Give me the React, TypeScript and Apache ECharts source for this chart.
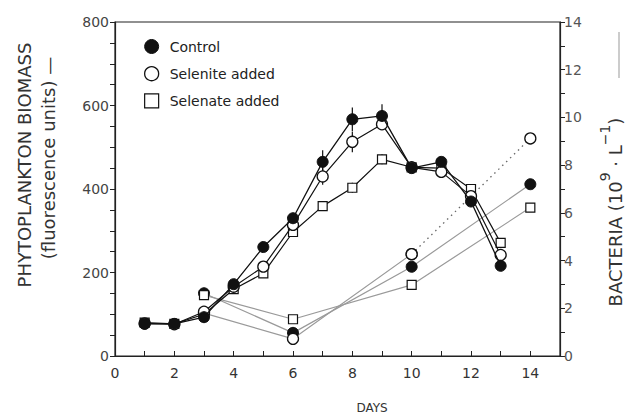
import React, { useEffect, useRef } from "react";
import * as echarts from "echarts";

const phytoDays = [1, 2, 3, 4, 5, 6, 7, 8, 9, 10, 11, 12, 13];
const phytoControl = [77, 77, 93, 172, 261, 330, 465, 567, 575, 450, 465, 370, 216];
const phytoSelenite = [78, 76, 106, 166, 214, 314, 430, 513, 555, 452, 441, 383, 242];
const phytoSelenate = [80, 77, 100, 160, 198, 297, 359, 403, 471, 452, 450, 400, 271];

const errDays = [7, 8, 9];
const errControl = [28, 28, 28];
const errSelenite = [20, 25, 12];
const errSelenate = [10, 12, 12];

const bactDays = [3, 6, 10, 14];
const bactControl = [2.63, 0.97, 3.74, 7.2];
const bactSelenite = [1.8, 0.72, 4.27, 9.12];
const bactSelenate = [2.55, 1.54, 2.98, 6.22];

const xTickLabels = ["0", "2", "4", "6", "8", "10", "12", "14"];
const leftTickLabels = ["0", "200", "400", "600", "800"];
const rightTickLabels = ["0", "2", "4", "6", "8", "10", "12", "14"];

const FONT = "DejaVu Sans";

const pairs = (xs: number[], ys: number[]) => xs.map((x, i) => [x, ys[i]]);

const errData = (vals: number[], errs: number[]) =>
  errDays.map((d, i) => {
    const v = vals[phytoDays.indexOf(d)];
    return [d, v - errs[i], v + errs[i]];
  });

const errRender = (params: any, api: any) => {
  const x = api.value(0);
  const p1 = api.coord([x, api.value(1)]);
  const p2 = api.coord([x, api.value(2)]);
  return {
    type: "line",
    shape: { x1: p1[0], y1: p1[1], x2: p2[0], y2: p2[1] },
    style: { stroke: "#111", lineWidth: 1.2 },
  };
};

export default function App() {
  const ref = useRef<HTMLDivElement>(null);
  useEffect(() => {
    if (!ref.current) return;
    const chart = echarts.init(ref.current, undefined, { renderer: "svg" });
    const black = "#111";
    const grey = "#9a9a9a";
    const ctrlItem = { color: black, borderColor: black, borderWidth: 1 };
    const seleniteItem = { color: "#fff", borderColor: black, borderWidth: 1.3 };
    const selenateItem = { color: "#fff", borderColor: black, borderWidth: 1.2 };
    chart.setOption({
      animation: false,
      backgroundColor: "#fff",
      textStyle: { fontFamily: FONT },
      grid: {
        left: 115,
        right: 72,
        top: 22,
        bottom: 62,
        show: true,
        borderColor: "#222",
        borderWidth: 1.2,
        backgroundColor: "transparent",
      },
      legend: {
        orient: "vertical",
        left: 139,
        top: 34,
        itemWidth: 14,
        itemHeight: 14,
        itemGap: 12,
        selectedMode: false,
        textStyle: {
          fontFamily: FONT,
          fontSize: 14,
          color: "#222",
          padding: [0, 0, 0, 6],
        },
        data: [
          { name: "Control", icon: "circle", itemStyle: ctrlItem },
          { name: "Selenite added", icon: "circle", itemStyle: seleniteItem },
          { name: "Selenate added", icon: "rect", itemStyle: { ...selenateItem } },
        ],
      },
      xAxis: {
        type: "value",
        min: 0,
        max: 15,
        interval: 1,
        splitLine: { show: false },
        axisLine: { show: true, onZero: false, lineStyle: { color: "#222", width: 1.2 } },
        axisTick: { show: true, inside: true, length: 5, lineStyle: { color: "#222" } },
        axisLabel: {
          fontFamily: FONT,
          fontSize: 14,
          color: "#333",
          margin: 10,
          formatter: (v: number) => {
            const s = String(v);
            return xTickLabels.includes(s) ? s : "";
          },
        },
      },
      yAxis: [
        {
          type: "value",
          min: 0,
          max: 800,
          interval: 50,
          position: "left",
          splitLine: { show: false },
          axisLine: { show: true, lineStyle: { color: "#222", width: 1.2 } },
          axisTick: { show: true, length: 5, lineStyle: { color: "#222" } },
          axisLabel: {
            fontFamily: FONT,
            fontSize: 14,
            color: "#444",
            margin: 6,
            formatter: (v: number) => {
              const s = String(v);
              return leftTickLabels.includes(s) ? s : "";
            },
          },
        },
        {
          type: "value",
          min: 0,
          max: 14,
          interval: 1,
          position: "right",
          splitLine: { show: false },
          axisLine: { show: true, lineStyle: { color: "#222", width: 1.2 } },
          axisTick: { show: true, length: 5, lineStyle: { color: "#222" } },
          axisLabel: {
            fontFamily: FONT,
            fontSize: 14,
            color: "#555",
            margin: 4,
            formatter: (v: number) => {
              const s = String(v);
              return rightTickLabels.includes(s) ? s : "";
            },
          },
        },
      ],
      graphic: [
        {
          type: "text",
          x: 24,
          y: 165,
          rotation: Math.PI / 2,
          style: {
            text: "PHYTOPLANKTON BIOMASS",
            font: `18px '${FONT}'`,
            fill: "#333",
            align: "center",
            verticalAlign: "middle",
          },
        },
        {
          type: "text",
          x: 48,
          y: 158,
          rotation: Math.PI / 2,
          style: {
            text: "(fluorescence units) —",
            font: `18px '${FONT}'`,
            fill: "#333",
            align: "center",
            verticalAlign: "middle",
          },
        },
        {
          type: "text",
          x: 611,
          y: 212,
          rotation: Math.PI / 2,
          style: {
            text: "{n|BACTERIA (10}{s|9}{n| · L}{s|−1}{n|)}",
            fill: "#333",
            align: "center",
            verticalAlign: "middle",
            rich: {
              n: { fontFamily: FONT, fontSize: 18, lineHeight: 26, verticalAlign: "bottom", fill: "#333" },
              s: { fontFamily: FONT, fontSize: 14, lineHeight: 26, verticalAlign: "top", fill: "#333" },
            },
          },
        },
        {
          type: "line",
          shape: { x1: 619, y1: 32, x2: 619, y2: 78 },
          style: { stroke: "#aaa", lineWidth: 1.2 },
        },
        {
          type: "text",
          x: 372,
          y: 408,
          style: {
            text: "DAYS",
            font: `12px '${FONT}'`,
            fill: "#333",
            align: "center",
            verticalAlign: "middle",
          },
        },
      ],
      series: [
        {
          name: "Control bacteria",
          type: "line",
          yAxisIndex: 1,
          data: pairs(bactDays, bactControl),
          symbol: "circle",
          symbolSize: 11,
          itemStyle: ctrlItem,
          lineStyle: { color: grey, width: 1.2 },
          z: 2,
        },
        {
          name: "Selenite bacteria",
          type: "line",
          yAxisIndex: 1,
          data: pairs(bactDays.slice(0, 3), bactSelenite.slice(0, 3)),
          symbol: "circle",
          symbolSize: 11,
          itemStyle: seleniteItem,
          lineStyle: { color: grey, width: 1.2 },
          z: 2,
        },
        {
          name: "Selenite bacteria late",
          type: "line",
          yAxisIndex: 1,
          data: pairs(bactDays.slice(2), bactSelenite.slice(2)),
          symbol: "circle",
          symbolSize: 11,
          itemStyle: seleniteItem,
          lineStyle: { color: "#666", width: 1.3, type: [1.5, 4] },
          z: 2,
        },
        {
          name: "Selenate bacteria",
          type: "line",
          yAxisIndex: 1,
          data: pairs(bactDays, bactSelenate),
          symbol: "rect",
          symbolSize: 9,
          itemStyle: selenateItem,
          lineStyle: { color: grey, width: 1.2 },
          z: 2,
        },
        {
          name: "Control err",
          type: "custom",
          renderItem: errRender,
          data: errData(phytoControl, errControl),
          z: 3,
        },
        {
          name: "Selenite err",
          type: "custom",
          renderItem: errRender,
          data: errData(phytoSelenite, errSelenite),
          z: 3,
        },
        {
          name: "Selenate err",
          type: "custom",
          renderItem: errRender,
          data: errData(phytoSelenate, errSelenate),
          z: 3,
        },
        {
          name: "Selenate added",
          type: "line",
          data: pairs(phytoDays, phytoSelenate),
          symbol: "rect",
          symbolSize: 9,
          itemStyle: selenateItem,
          lineStyle: { color: black, width: 1.2 },
          z: 4,
        },
        {
          name: "Selenite added",
          type: "line",
          data: pairs(phytoDays, phytoSelenite),
          symbol: "circle",
          symbolSize: 11,
          itemStyle: seleniteItem,
          lineStyle: { color: black, width: 1.2 },
          z: 5,
        },
        {
          name: "Control",
          type: "line",
          data: pairs(phytoDays, phytoControl),
          symbol: "circle",
          symbolSize: 11,
          itemStyle: ctrlItem,
          lineStyle: { color: black, width: 1.3 },
          z: 6,
        },
      ],
    });
    return () => chart.dispose();
  }, []);
  return <div ref={ref} style={{ width: 632, height: 418, position: "absolute", left: 0, top: 0 }} />;
}
